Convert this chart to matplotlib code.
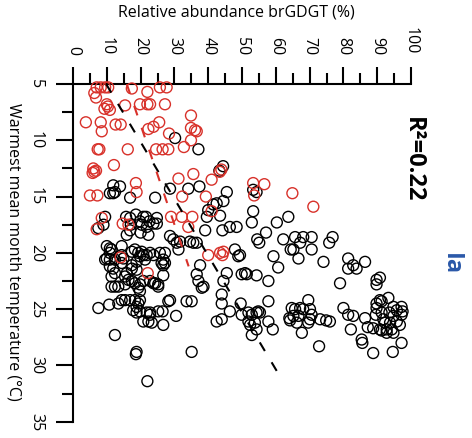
import matplotlib
matplotlib.use("Agg")
import matplotlib.pyplot as plt
import numpy as np

plt.rcParams['font.family'] = ['Open Sans', 'DejaVu Sans']

# brGDGT Ia (%) vs warmest mean month temperature (deg C)
black_abund = [30.2, 37.1, 44.4, 43.3, 13.9, 11.9, 10.9, 16.9, 24.3, 28.7, 34.1, 37.4,
               45.5, 44.5, 42.5, 41.5, 40.0, 39.6, 43.5, 53.3, 52.9, 48.4, 44.2, 39.1,
               55.1, 54.3, 53.3,
               15.7, 16.9, 18.6, 19.8, 20.3, 21.6, 22.6, 24.8, 24.8, 22.3, 20.0, 17.1,
               28.7, 29.7, 30.7, 31.7, 31.2, 34.6, 35.6, 36.6, 46.4, 47.9, 48.9, 49.4,
               49.9, 50.9, 51.4, 54.3, 45.5, 44.5, 44.0, 44.0, 46.4, 49.9, 51.9, 52.4,
               54.3, 52.9, 42.5, 44.0, 37.6, 36.6, 37.1, 38.1, 38.6, 33.6, 35.1, 35.1,
               28.2, 28.7, 30.5, 26.7, 27.2, 26.7, 25.7, 27.2, 26.7, 25.2, 24.3, 26.5,
               25.2, 22.8, 26.7, 23.3, 22.3, 20.8, 18.6, 18.8, 12.4, 22.0, 7.5, 10.7,
               13.4, 14.4, 15.4, 16.9, 18.3, 19.8, 19.3, 18.8, 17.8, 18.8, 19.8, 21.8,
               22.8,
               10.0, 10.9, 11.4, 10.0, 10.9, 14.4, 14.9, 14.4, 17.4, 18.3, 19.3, 20.3,
               19.8, 20.8, 21.3, 21.8, 22.8, 23.8, 26.2, 18.8, 17.4, 15.4, 11.9, 11.4,
               12.4, 13.4, 15.4, 16.4, 17.4, 18.3, 19.8, 20.8, 22.8, 23.8, 25.2, 19.3,
               19.8, 17.4, 15.9, 18.8,
               12.4, 7.5, 9.5, 9.0, 20.8, 23.8, 21.8, 16.9, 15.9, 10.9, 12.4, 10.9,
               9.5, 12.4, 11.4, 14.4, 11.9,
               63.7, 60.3, 57.1, 54.5, 62.2, 65.7, 68.1, 70.6, 67.2, 64.4, 65.2, 70.6,
               76.8, 75.8, 59.3, 66.7, 60.7, 74.1, 81.4, 82.9, 83.9, 86.4, 81.4, 90.8,
               89.8, 89.8, 79.0, 57.8, 49.6, 51.9, 52.9, 54.8, 55.3, 53.8, 54.3, 57.8,
               57.8, 59.1, 64.7, 65.7, 67.2, 68.1, 70.1, 69.6, 65.2, 66.7, 64.0, 64.2,
               66.2, 67.7, 70.1, 70.6, 69.6, 73.1, 74.9, 76.0, 72.8, 80.0, 81.4, 82.9,
               82.2, 86.4, 87.2, 88.8, 85.4, 85.6, 88.8,
               89.8, 90.8, 91.3, 93.3, 89.8, 89.6, 91.3, 91.8, 92.3, 93.6, 94.8, 95.8,
               97.2, 97.5, 97.2, 95.8, 96.7, 94.8, 93.8, 92.8, 91.3, 90.8, 92.8, 94.3,
               94.8, 97.2, 94.6]
black_temp = [9.8, 10.8, 12.3, 12.7, 14.1, 14.7, 14.7, 15.1, 15.1, 14.3, 14.3, 14.1,
              14.6, 15.4, 15.6, 15.7, 16.2, 16.8, 16.7, 16.3, 17.3, 17.7, 18.0, 18.0,
              19.1, 14.6, 14.4,
              16.8, 16.9, 16.6, 17.2, 17.5, 16.8, 17.2, 16.9, 17.4, 18.4, 18.2, 17.5,
              18.5, 18.8, 19.1, 19.0, 19.7, 19.0, 19.1, 19.1, 17.7, 19.7, 20.3, 20.2,
              21.9, 21.8, 21.9, 22.0, 21.8, 22.5, 23.7, 24.5, 25.2, 25.5, 26.1, 26.4,
              25.3, 27.3, 26.1, 25.9, 21.1, 21.9, 22.5, 23.1, 23.0, 24.3, 24.3, 28.8,
              24.3, 24.2, 25.6, 21.1, 20.9, 22.0, 20.0, 20.0, 20.6, 22.8, 22.7, 25.2,
              25.2, 25.3, 26.4, 26.2, 26.1, 26.1, 29.0, 28.8, 27.3, 31.4, 24.9, 24.6,
              24.5, 24.2, 24.2, 24.2, 24.2, 24.2, 24.5, 24.8, 25.1, 25.3, 25.2, 25.3,
              25.5,
              19.4, 19.6, 19.7, 20.5, 20.6, 20.2, 20.5, 20.9, 19.9, 19.7, 20.0, 19.9,
              20.3, 20.2, 20.6, 20.2, 20.0, 20.2, 20.9, 20.8, 21.1, 22.1, 21.4, 22.1,
              23.0, 23.0, 22.8, 22.4, 22.5, 22.7, 22.8, 22.5, 22.5, 22.7, 23.0, 23.1,
              23.4, 21.4, 21.8, 21.5,
              14.6, 17.8, 16.8, 17.5, 16.8, 17.4, 17.7, 18.0, 18.4, 20.0, 20.6, 21.2,
              20.6, 21.8, 23.0, 19.4, 14.0,
              16.8, 17.3, 18.2, 18.8, 18.8, 18.6, 18.6, 18.6, 19.1, 19.7, 19.7, 19.7,
              18.6, 19.1, 20.3, 20.5, 21.3, 20.8, 20.5, 21.1, 21.4, 20.8, 21.4, 22.2,
              22.8, 22.4, 22.7, 22.5, 24.5, 25.3, 25.5, 25.2, 25.3, 26.2, 26.8, 24.3,
              26.1, 26.8, 24.9, 25.0, 24.9, 25.0, 25.0, 24.2, 25.6, 25.6, 25.8, 26.0,
              26.2, 27.1, 25.9, 25.5, 26.2, 25.9, 26.0, 26.1, 28.3, 24.9, 25.5, 25.6,
              26.8, 25.8, 26.6, 26.7, 27.7, 28.0, 28.9,
              24.5, 24.2, 24.3, 24.0, 24.9, 25.5, 25.3, 25.9, 26.2, 25.3, 24.8, 25.1,
              24.8, 25.2, 25.5, 26.1, 26.4, 25.6, 26.2, 26.8, 26.9, 26.8, 27.1, 26.8,
              27.1, 28.0, 28.8]

red_abund = [7.0, 8.2, 9.5, 10.4, 6.3, 6.8, 17.4, 22.0, 25.7, 27.7, 10.0, 10.3,
             9.3, 10.9, 15.4, 19.8, 22.0, 22.8, 27.2, 34.9, 3.8, 8.2, 12.6, 14.1,
             8.5, 22.3, 23.8, 25.5, 28.4, 34.9, 36.1, 36.6, 34.9, 32.8, 7.3, 7.8,
             16.2, 24.6, 26.5, 28.2, 6.0, 6.3, 5.8, 6.8, 12.1, 31.2, 35.6, 41.0,
             53.3, 18.6, 5.0, 7.2, 18.8, 32.3, 39.3, 53.6, 8.5, 7.0, 14.7, 16.4,
             29.0, 32.2, 35.3, 34.1, 41.0, 43.5, 44.5, 44.2, 40.0, 14.1, 22.1,
             43.9, 43.4, 56.6, 64.9, 71.1]
red_temp = [5.3, 5.3, 5.3, 5.3, 5.8, 6.2, 5.4, 5.7, 5.3, 5.3, 6.8, 7.0,
            7.2, 7.3, 6.9, 6.8, 6.8, 6.8, 6.8, 7.8, 8.4, 8.4, 8.6, 8.6,
            9.2, 9.0, 8.8, 8.4, 9.4, 8.9, 9.1, 9.2, 10.0, 10.6, 10.8, 10.8,
            10.8, 10.8, 10.8, 10.8, 12.5, 12.8, 12.9, 12.7, 12.2, 13.4, 13.0, 13.5,
            13.8, 13.8, 14.9, 14.9, 14.6, 15.0, 15.0, 14.9, 16.9, 17.9, 17.4, 17.5,
            16.8, 16.8, 16.8, 17.7, 16.3, 20.0, 19.9, 20.2, 20.2, 20.4, 21.8,
            12.6, 12.8, 13.9, 14.7, 15.9]

# regression lines, abundance = a + b * temperature
black_fit = (-0.1, 1.98)
black_fit_range = (5.0, 31.4)
red_fit = (10.25, 1.13)
red_fit_range = (5.0, 21.2)

red = '#d8312a'

fig = plt.figure(figsize=(4.72, 4.38), dpi=100)
ax = fig.add_axes([0.1547, 0.0372, 0.7161, 0.771])

ax.scatter(black_abund, black_temp, s=62, facecolors='none', edgecolors='black',
           linewidths=1.0, clip_on=False, zorder=2)
ax.scatter(red_abund, red_temp, s=62, facecolors='none', edgecolors=red,
           linewidths=1.0, clip_on=False, zorder=3)

t = np.array(black_fit_range)
ax.plot(black_fit[0] + black_fit[1] * t, t, color='black', lw=1.5,
        dashes=(4.8, 6.3), zorder=4)
t = np.array(red_fit_range)
ax.plot(red_fit[0] + red_fit[1] * t, t, color=red, lw=1.5,
        dashes=(4.8, 6.3), zorder=4)

ax.set_xlim(0, 100)
ax.set_ylim(35, 5)

for s in ['right', 'bottom']:
    ax.spines[s].set_visible(False)
for s in ['top', 'left']:
    ax.spines[s].set_linewidth(1.5)
ax.spines['top'].set_bounds(0, 100)
ax.spines['left'].set_bounds(5, 35)

ax.xaxis.tick_top()
ax.set_xticks(np.arange(0, 101, 10))
ax.set_xticks(np.arange(5, 100, 10), minor=True)
ax.set_yticks(np.arange(5, 36, 5))
ax.set_yticks(np.arange(7.5, 35, 5), minor=True)
ax.tick_params(which='major', length=12, width=1.5, direction='out', labelsize=11.5)
ax.tick_params(which='minor', length=8, width=1.5, direction='out')
ax.tick_params(axis='x', pad=9)
ax.tick_params(axis='y', pad=9)
for lab in ax.get_xticklabels():
    lab.set_rotation(-90)
for lab in ax.get_yticklabels():
    lab.set_rotation(-90)
    lab.set_va('center')

fig.text(0.5, 0.972, 'Relative abundance brGDGT (%)', ha='center', va='center',
         fontsize=11.5)
fig.text(0.027, 0.425, 'Warmest mean month temperature (\u00b0C)', ha='center',
         va='center', rotation=-90, fontsize=11.5)
fig.text(0.875, 0.635, 'R\u00b2=0.22', ha='center', va='center', rotation=-90,
         fontsize=17, fontweight='bold')
fig.text(0.955, 0.397, 'Ia', ha='center', va='center', rotation=-90,
         fontsize=17, fontweight='bold', color='#2a58a8')

fig.savefig('out.png', dpi=100)
